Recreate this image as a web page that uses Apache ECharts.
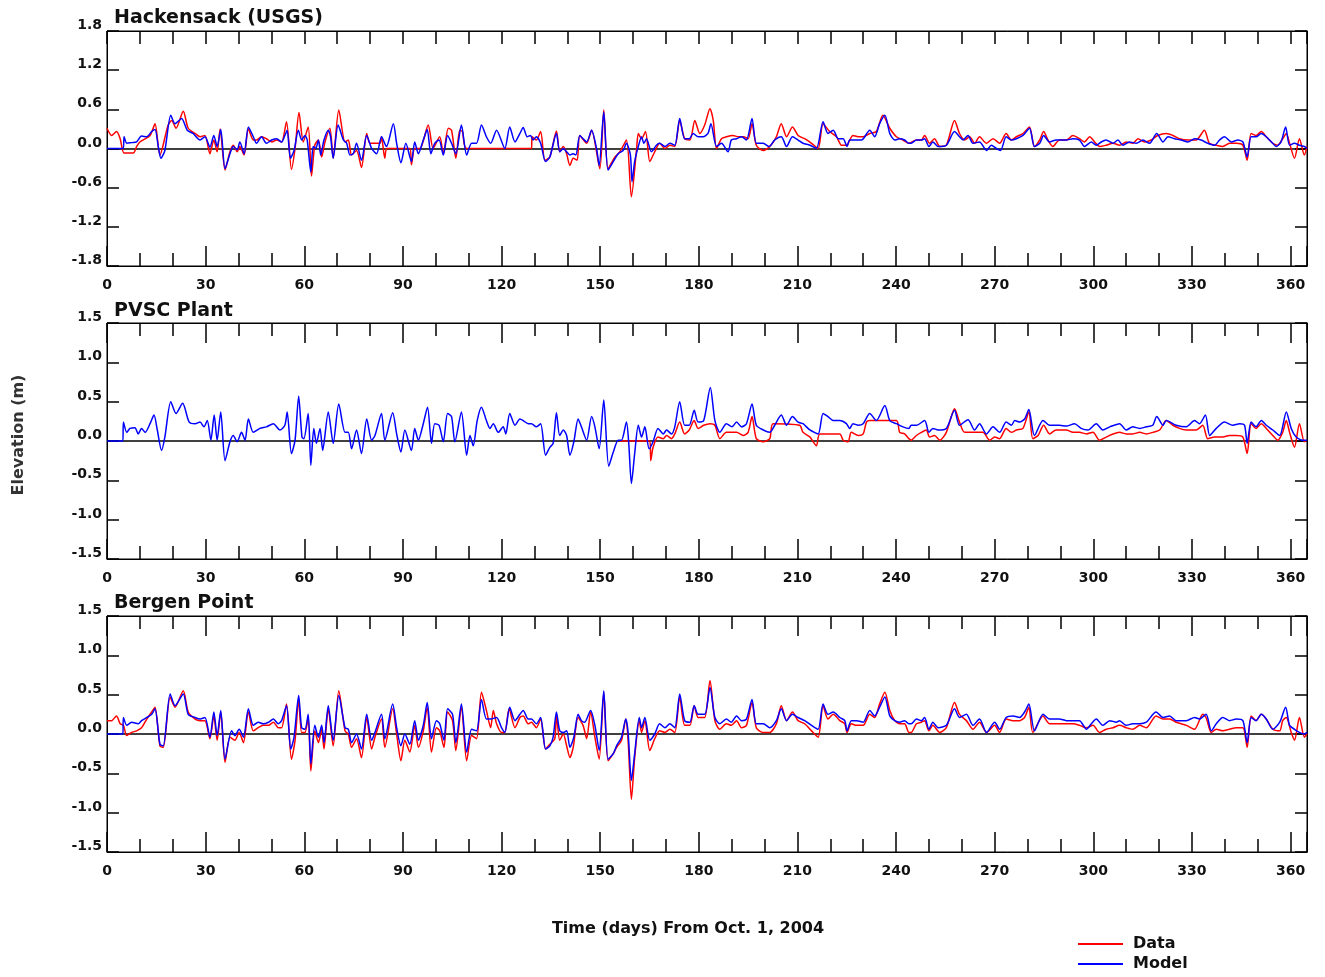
<!DOCTYPE html>
<html>
<head>
<meta charset="utf-8">
<script src="https://cdn.jsdelivr.net/npm/echarts@6/dist/echarts.min.js"></script>
<style>html,body{margin:0;padding:0;background:#fff;}#c{width:1325px;height:977px;}</style>
</head>
<body>
<div id="c"></div>
<script>
// ---- Data: [day, elevation (m)] ----
const hackModel = [[0,0],[4.9,0],[5.2,0.18],[6.0,0.08],[7.5,0.09],[9.0,0.10],[10.5,0.19],[12.1,0.18],[13.6,0.26],[14.6,0.29],[15.6,0.03],[16.4,-0.15],[17.6,-0.03],[19.4,0.51],[20.7,0.38],[22.7,0.46],[24.4,0.28],[26.2,0.23],[28.3,0.13],[29.8,0.18],[31.3,0.02],[32.5,0.20],[33.5,0.03],[34.6,0.29],[35.9,-0.31],[37.4,-0.08],[38.4,0.03],[39.6,-0.02],[40.4,0.10],[41.7,-0.08],[43.0,0.33],[44.5,0.18],[45.5,0.08],[47.0,0.18],[48.5,0.08],[50.1,0.13],[51.6,0.15],[53.1,0.10],[54.1,0.20],[54.8,0.28],[55.8,-0.15],[56.9,-0.03],[58.2,0.28],[59.2,0.13],[60.2,0.20],[60.9,0.13],[62.0,-0.36],[62.7,0.03],[63.5,0],[64.3,0.13],[65.0,-0.10],[66.0,0.13],[67.3,0.28],[68.0,0.18],[68.8,-0.15],[70.3,0.36],[71.9,0.13],[72.9,0.08],[73.9,-0.10],[74.9,-0.08],[75.9,0.08],[77.4,-0.18],[79.0,0.20],[80.5,0],[82.0,-0.08],[83.5,0.18],[85.0,0.03],[87.1,0.38],[88.1,0.08],[89.4,-0.22],[90.9,0.08],[92.6,-0.20],[93.6,0.10],[94.7,-0.08],[96.2,0.13],[97.4,0.29],[98.5,-0.08],[99.7,0.08],[101.0,0.13],[102.3,-0.10],[103.6,0.20],[104.8,0.08],[106.1,-0.08],[107.8,0.36],[109.4,-0.10],[110.9,0.08],[112.4,0.08],[113.9,0.36],[115.4,0.18],[116.7,0.08],[118.5,0.28],[121.0,0],[122.5,0.33],[124.1,0.10],[125.6,0.23],[126.6,0.32],[127.8,0.18],[128.8,0.20],[129.6,0.13],[130.6,0.18],[131.9,0.08],[133.4,-0.20],[134.7,-0.13],[136.7,0.23],[137.7,-0.05],[138.8,0],[139.8,-0.05],[140.8,-0.10],[141.8,-0.08],[142.6,-0.10],[143.8,0.20],[144.8,0.15],[145.9,0.10],[147.4,0.28],[148.9,0],[149.7,-0.26],[151.1,0.56],[152.4,-0.33],[154.0,-0.20],[155.5,-0.08],[157.0,-0.03],[158.0,0.08],[159.2,-0.10],[159.7,-0.51],[160.5,-0.20],[161.6,0.03],[162.6,0.18],[163.3,0.08],[164.1,0.15],[165.6,-0.05],[167.1,0.05],[168.1,0.08],[169.7,0.03],[171.2,0.08],[172.7,0.05],[174.2,0.46],[175.7,0.15],[177.1,0.15],[178.3,0.23],[179.8,0.18],[181.3,0.18],[182.8,0.23],[183.7,0.38],[185.4,0.03],[186.9,0.08],[188.9,-0.05],[189.9,0.13],[191.5,0.15],[193.0,0.18],[194.5,0.13],[196.2,0.46],[197.5,0.08],[199.6,0.08],[201.4,0.03],[203.1,0.13],[205.1,0.18],[206.7,0.03],[208.5,0.18],[210.2,0.13],[211.7,0.08],[213.8,0.05],[215.8,0],[217.8,0.41],[219.3,0.23],[220.9,0.28],[222.4,0.15],[223.9,0.15],[225.1,0.03],[225.9,0.13],[227.4,0.13],[229.5,0.13],[232.0,0.28],[233.5,0.18],[235.0,0.38],[236.6,0.51],[238.1,0.23],[239.6,0.13],[241.1,0.15],[242.6,0.13],[243.9,0.08],[244.6,0.08],[246.2,0.13],[247.7,0.13],[248.7,0.15],[250.0,0.03],[251.2,0.10],[252.8,0.03],[255.3,0.05],[257.8,0.26],[259.3,0.18],[260.4,0.13],[261.9,0.20],[263.4,0.08],[265.4,0.10],[267.5,-0.03],[269.0,0.05],[270.5,0],[271.8,-0.03],[273.5,0.18],[275.1,0.13],[276.6,0.15],[278.6,0.20],[280.6,0.31],[282.1,0.03],[283.7,0.08],[284.9,0.20],[286.7,0.10],[288.7,0.13],[291.8,0.13],[293.8,0.15],[295.8,0.13],[297.3,0.03],[299.4,0.10],[300.9,0.05],[302.4,0.10],[303.9,0.13],[306.0,0.08],[307.5,0.13],[309.0,0.05],[311.0,0.10],[313.1,0.08],[315.1,0.13],[317.1,0.08],[319.3,0.23],[321.2,0.10],[322.7,0.18],[324.7,0.15],[326.7,0.13],[328.8,0.10],[330.8,0.15],[332.8,0.13],[334.8,0.08],[336.9,0.05],[338.4,0.13],[339.9,0.18],[342.0,0.10],[344.0,0.13],[345.5,0.10],[346.8,-0.13],[348.0,0.18],[349.5,0.18],[351.1,0.23],[352.6,0.18],[354.6,0.08],[355.6,0.03],[357.1,0.10],[358.5,0.33],[359.7,0.05],[361.2,0.08],[362.7,0.05],[364.2,0.03],[365,0]];

const hackData = [[0,0.31],[1.4,0.20],[2.9,0.26],[4.0,0.15],[5.2,-0.07],[8.0,-0.07],[9.0,0.03],[10.0,0.10],[13.1,0.20],[14.6,0.38],[16.1,-0.10],[18.6,0.36],[19.7,0.43],[21.0,0.31],[23.2,0.57],[24.7,0.31],[26.8,0.23],[28.3,0.18],[29.8,0.20],[31.3,-0.08],[32.5,0.13],[33.5,-0.05],[34.4,0.30],[35.9,-0.33],[37.4,-0.05],[38.4,0.05],[39.6,-0.05],[40.4,0.03],[41.7,-0.10],[43.0,0.30],[44.5,0.13],[45.5,0.13],[47.0,0.18],[48.5,0.15],[50.1,0.10],[51.6,0.13],[53.1,0.10],[54.6,0.41],[56.1,-0.32],[57.2,0],[58.4,0.55],[59.7,0.10],[61.2,0.33],[62.2,-0.42],[63.2,0.05],[64.3,0.13],[65.3,-0.13],[66.3,0.10],[67.8,0.31],[68.8,-0.15],[70.5,0.59],[72.4,0.10],[73.4,0.13],[74.4,-0.10],[75.9,-0.03],[77.4,-0.29],[79.0,0.23],[80.0,0.08],[83.0,0.08],[83.5,0.18],[84.5,-0.15],[85.2,0],[92.1,0],[92.6,-0.25],[93.6,0],[95.2,0],[97.7,0.36],[99.2,0],[101.2,0.18],[102.3,-0.08],[103.8,0.31],[104.8,0.28],[106.1,-0.15],[107.3,0.28],[108.1,0.26],[109.4,0],[129.1,0],[129.3,0.18],[130.6,0.13],[131.9,0.26],[133.2,-0.18],[134.7,-0.13],[136.7,0.27],[137.7,-0.05],[138.8,0.03],[139.8,-0.08],[140.8,-0.26],[141.8,-0.15],[143.0,-0.18],[143.8,0.20],[145.9,0.08],[147.4,0.28],[149.9,-0.31],[151.1,0.59],[152.4,-0.31],[154.5,-0.13],[156.0,-0.05],[158.0,0.13],[159.5,-0.74],[161.1,0],[161.6,0.23],[162.6,0.15],[163.8,0.26],[165.1,-0.20],[166.6,-0.05],[168.1,0.08],[169.7,0],[171.2,0.05],[172.7,0.03],[174.2,0.43],[175.7,0.15],[177.3,0.13],[178.8,0.43],[180.3,0.23],[181.8,0.36],[183.4,0.61],[184.4,0.43],[185.4,0],[186.9,0.15],[188.4,0.18],[190.4,0.20],[192.0,0.18],[193.5,0.18],[195.0,0.15],[196.2,0.38],[197.5,0.05],[199.6,-0.03],[201.6,0.03],[203.6,0.18],[205.1,0.38],[206.7,0.18],[208.5,0.33],[210.2,0.20],[212.2,0.15],[214.3,0.08],[216.3,0],[217.8,0.38],[219.8,0.26],[221.9,0.18],[223.4,0.05],[224.9,0.05],[226.9,0.20],[228.5,0.18],[230.0,0.18],[232.0,0.23],[234.0,0.26],[236.0,0.51],[238.1,0.31],[240.1,0.18],[242.1,0.13],[243.9,0.08],[246.2,0.13],[247.7,0.13],[248.7,0.20],[250.2,0.08],[251.7,0.15],[253.3,0.03],[255.3,0.05],[257.8,0.43],[259.3,0.23],[260.9,0.13],[262.4,0.18],[263.9,0.08],[265.4,0.18],[267.5,0.08],[269.5,0.15],[271.5,0.08],[273.5,0.23],[275.1,0.13],[276.6,0.18],[278.6,0.23],[280.6,0.33],[282.1,0.03],[283.7,0.13],[284.9,0.26],[286.2,0.13],[287.7,0.03],[289.7,0.13],[291.8,0.13],[293.8,0.20],[295.8,0.15],[297.3,0.10],[298.9,0.18],[300.4,0.10],[301.9,0.03],[303.9,0.05],[306.0,0.08],[308.0,0.05],[310.0,0.10],[312.0,0.08],[313.6,0.15],[315.6,0.10],[317.6,0.13],[319.6,0.20],[322.2,0.23],[324.2,0.20],[326.2,0.15],[328.8,0.13],[331.3,0.13],[333.8,0.28],[335.3,0.08],[337.4,0.05],[339.4,0.03],[341.4,0.08],[343.5,0.08],[345.5,0.05],[346.8,-0.18],[348.0,0.23],[349.5,0.20],[351.1,0.26],[352.6,0.18],[354.6,0.08],[356.1,0.05],[357.6,0.15],[358.7,0.23],[359.7,0.08],[361.2,-0.15],[362.7,0.15],[364.2,-0.10],[365,0.03]];

const pvscModel = [[0,0],[4.8,0],[5.0,0.24],[6.0,0.11],[7.0,0.16],[8.5,0.17],[9.5,0.09],[10.5,0.16],[11.6,0.11],[13.1,0.22],[14.3,0.33],[15.3,0.14],[16.6,-0.12],[17.6,0.05],[19.4,0.50],[21.0,0.35],[23.0,0.48],[25.0,0.24],[26.8,0.22],[28.3,0.24],[29.5,0.18],[30.5,0.26],[31.6,0.01],[32.6,0.33],[33.5,0.01],[34.6,0.37],[35.9,-0.25],[37.4,-0.01],[38.4,0.07],[39.6,-0.01],[40.9,0.11],[42.0,0.01],[43.0,0.28],[44.5,0.11],[46.5,0.16],[48.5,0.18],[50.6,0.22],[52.6,0.14],[54.1,0.20],[54.8,0.37],[56.1,-0.16],[57.2,0.01],[58.3,0.57],[59.3,0.05],[59.9,0.03],[61.2,0.35],[62.0,-0.31],[62.9,0.16],[63.7,-0.03],[64.8,0.16],[65.6,-0.12],[67.3,0.37],[68.8,-0.03],[70.5,0.47],[72.4,0.11],[73.4,0.11],[74.4,-0.10],[75.9,0.14],[77.4,-0.16],[79.0,0.28],[80.5,0.01],[81.5,0.07],[83.5,0.35],[84.5,0.01],[86.9,0.36],[88.1,0.09],[89.4,-0.14],[90.6,0.14],[92.6,-0.12],[93.6,0.16],[94.7,0.01],[96.2,0.22],[97.5,0.43],[98.7,-0.03],[99.7,0.22],[101.0,0.20],[102.3,-0.01],[103.6,0.35],[104.8,0.31],[105.8,-0.01],[107.8,0.37],[109.4,-0.18],[110.4,0.07],[111.4,-0.06],[112.6,0.26],[113.9,0.43],[115.4,0.26],[116.5,0.16],[117.5,0.22],[119.0,0.11],[120.5,0.18],[121.3,0.09],[122.5,0.35],[124.1,0.20],[125.6,0.28],[126.6,0.26],[128.1,0.22],[129.1,0.22],[130.6,0.18],[131.9,0.22],[133.4,-0.18],[134.7,-0.08],[135.7,-0.03],[136.7,0.36],[137.7,0.07],[138.8,0.14],[139.8,0.07],[140.8,-0.18],[142.0,-0.01],[143.3,0.28],[144.3,0.18],[145.9,0.01],[147.4,0.31],[148.4,0.18],[149.7,-0.10],[151.1,0.52],[152.6,-0.32],[154.0,-0.14],[155.5,0.01],[156.5,0.01],[158.0,0.24],[158.7,-0.03],[159.5,-0.54],[160.5,-0.16],[161.6,0.20],[162.6,0.05],[163.6,0.18],[164.9,-0.10],[166.1,-0.01],[167.6,0.16],[169.2,0.09],[170.2,0.14],[171.7,0.09],[172.7,0.18],[174.2,0.50],[175.7,0.20],[177.1,0.20],[178.6,0.39],[179.8,0.24],[181.5,0.26],[183.5,0.68],[184.9,0.26],[186.4,0.11],[188.4,0.22],[190.1,0.18],[191.5,0.24],[193.0,0.18],[194.5,0.22],[196.2,0.47],[197.5,0.20],[199.6,0.14],[201.6,0.11],[203.1,0.20],[205.1,0.33],[206.7,0.20],[208.5,0.31],[210.2,0.24],[211.7,0.22],[213.8,0.14],[216.3,0.09],[217.8,0.35],[219.3,0.31],[220.9,0.26],[222.9,0.26],[224.9,0.22],[225.9,0.16],[226.9,0.22],[228.5,0.20],[230.0,0.22],[232.0,0.35],[234.0,0.26],[236.6,0.45],[238.1,0.26],[240.1,0.22],[242.1,0.18],[243.9,0.16],[244.6,0.20],[246.2,0.20],[248.7,0.26],[250.0,0.11],[251.2,0.16],[252.8,0.14],[255.3,0.16],[257.8,0.39],[259.3,0.20],[261.9,0.27],[263.9,0.14],[265.4,0.22],[267.5,0.09],[269.5,0.18],[271.5,0.11],[273.5,0.24],[275.1,0.20],[276.1,0.26],[277.6,0.24],[279.1,0.28],[280.4,0.40],[282.1,0.07],[284.7,0.26],[286.7,0.20],[289.7,0.20],[291.8,0.19],[294.3,0.22],[296.3,0.16],[298.4,0.14],[300.9,0.22],[302.9,0.14],[305.0,0.18],[308.0,0.22],[310.0,0.14],[312.0,0.18],[314.1,0.16],[316.1,0.18],[318.1,0.20],[319.3,0.31],[321.2,0.20],[322.2,0.26],[325.2,0.20],[328.3,0.18],[330.8,0.26],[332.3,0.22],[334.1,0.33],[335.4,0.07],[337.4,0.16],[339.9,0.24],[342.4,0.20],[344.5,0.22],[346.0,0.20],[346.8,-0.03],[348.0,0.24],[349.5,0.18],[351.1,0.26],[352.6,0.20],[354.6,0.14],[356.7,0.07],[358.7,0.37],[360.2,0.16],[361.7,0.05],[363.7,0.01],[365,0.01]];

const pvscData = [[156.0,0],[165.1,0],[165.4,-0.25],[166.1,-0.08],[167.6,0.05],[169.2,0.03],[170.2,0.07],[171.7,0.03],[172.7,0.09],[174.2,0.24],[175.7,0.09],[177.1,0.14],[178.6,0.26],[179.8,0.16],[181.5,0.20],[183.4,0.22],[184.9,0.20],[186.4,0.03],[188.4,0.11],[190.1,0.11],[191.5,0.11],[193.5,0.07],[195.0,0.11],[196.2,0.31],[197.5,0.03],[199.6,-0.01],[201.6,0.03],[202.6,0.22],[210.7,0.20],[211.7,0.11],[213.8,0.05],[215.8,-0.06],[216.8,0.09],[222.9,0.09],[223.9,0.01],[225.4,-0.01],[226.4,0.11],[228.5,0.07],[230.0,0.09],[231.0,0.24],[232.0,0.26],[240.1,0.26],[241.1,0.11],[242.6,0.09],[243.9,0.03],[244.6,0.01],[246.2,0.07],[247.7,0.11],[249.2,0.14],[250.2,0.05],[251.7,0.07],[253.3,0.01],[255.3,0.11],[257.8,0.41],[259.3,0.24],[260.9,0.11],[266.4,0.11],[268.5,0.01],[270.0,0.05],[271.5,0.03],[273.5,0.16],[275.1,0.11],[276.6,0.14],[278.6,0.16],[280.4,0.37],[281.6,0.03],[283.2,0.07],[284.9,0.20],[286.7,0.09],[288.7,0.14],[291.8,0.14],[293.8,0.11],[295.8,0.11],[297.9,0.09],[299.9,0.11],[301.9,0.01],[303.9,0.05],[306.0,0.09],[308.0,0.11],[310.0,0.09],[312.0,0.09],[314.1,0.11],[316.1,0.09],[318.1,0.11],[320.2,0.14],[322.2,0.26],[324.2,0.20],[326.2,0.16],[328.3,0.14],[331.3,0.14],[333.3,0.20],[334.8,0.03],[336.9,0.05],[339.4,0.05],[341.4,0.07],[343.5,0.07],[345.5,0.05],[346.8,-0.16],[348.0,0.22],[349.5,0.16],[351.1,0.22],[352.6,0.16],[354.6,0.07],[356.1,0.01],[357.6,0.11],[358.7,0.26],[359.7,0.11],[361.2,-0.08],[362.7,0.22],[364.2,-0.01],[365,0.01]];

const bergModel = [[0,0],[4.8,0],[5.0,0.21],[6.0,0.11],[7.5,0.15],[9.5,0.13],[10.5,0.17],[12.1,0.21],[13.6,0.25],[14.6,0.32],[16.1,-0.13],[17.1,-0.15],[19.2,0.51],[20.7,0.36],[23.2,0.51],[24.7,0.25],[26.8,0.21],[28.3,0.19],[29.8,0.21],[31.3,-0.04],[32.5,0.28],[33.5,-0.02],[34.6,0.30],[35.9,-0.32],[37.9,0.04],[38.9,-0.02],[40.2,0.06],[41.5,-0.04],[43.0,0.32],[44.5,0.11],[46.0,0.15],[47.5,0.13],[49.1,0.15],[50.6,0.19],[52.1,0.13],[53.1,0.17],[54.6,0.36],[55.9,-0.19],[56.9,-0.04],[58.3,0.49],[59.2,0.08],[60.2,0.06],[61.2,0.25],[62.0,-0.38],[63.2,0.11],[64.3,-0.04],[65.3,0.11],[66.0,-0.11],[67.3,0.36],[68.8,-0.08],[70.5,0.49],[72.4,0.08],[73.4,0.06],[74.4,-0.11],[75.9,0],[77.4,-0.19],[79.0,0.25],[80.5,-0.08],[81.5,0.02],[83.5,0.25],[84.5,-0.06],[86.9,0.38],[88.1,0.08],[89.4,-0.15],[90.6,0],[92.1,-0.13],[93.6,0.17],[94.7,-0.08],[96.2,0.11],[97.4,0.40],[98.7,-0.06],[100.2,0.17],[101.2,0.13],[102.5,-0.08],[103.6,0.32],[105.1,0.25],[106.1,-0.11],[107.8,0.38],[109.4,-0.23],[110.9,0.06],[112.4,0.04],[113.9,0.44],[115.4,0.19],[116.7,0.19],[118.5,0.21],[120.0,0.08],[121.0,0.02],[122.5,0.34],[124.1,0.17],[125.6,0.25],[126.6,0.30],[128.1,0.19],[129.1,0.19],[130.6,0.13],[131.9,0.21],[133.4,-0.19],[134.7,-0.15],[135.7,-0.04],[136.7,0.28],[137.7,0.04],[138.8,0.02],[139.8,0.04],[140.8,-0.17],[142.0,-0.04],[143.3,0.25],[144.3,0.17],[145.3,0.15],[147.1,0.30],[148.4,0.11],[149.7,-0.21],[151.1,0.55],[152.4,-0.32],[154.0,-0.25],[155.0,-0.15],[156.5,-0.04],[157.8,0.19],[158.5,0.02],[159.5,-0.59],[160.5,-0.25],[161.9,0.21],[162.6,0.08],[163.6,0.21],[165.1,-0.08],[166.6,0],[168.1,0.13],[169.7,0.08],[171.2,0.13],[172.7,0.08],[174.2,0.51],[175.7,0.17],[177.3,0.15],[178.6,0.36],[179.8,0.25],[181.8,0.25],[183.4,0.59],[184.9,0.21],[186.4,0.13],[188.4,0.19],[189.9,0.15],[191.5,0.23],[193.0,0.17],[194.5,0.19],[196.2,0.44],[197.5,0.13],[199.6,0.13],[201.6,0.08],[203.6,0.17],[205.1,0.32],[206.7,0.17],[208.5,0.25],[210.2,0.21],[212.2,0.17],[214.3,0.11],[216.3,0.06],[217.8,0.38],[219.3,0.25],[220.9,0.28],[222.9,0.21],[224.4,0.17],[225.1,0.04],[226.4,0.17],[228.0,0.17],[230.0,0.15],[232.0,0.30],[233.5,0.23],[235.0,0.34],[236.6,0.47],[238.1,0.23],[239.6,0.17],[241.1,0.15],[242.6,0.17],[243.9,0.13],[244.6,0.13],[246.2,0.19],[247.7,0.17],[248.7,0.21],[250.0,0.06],[251.2,0.15],[252.8,0.08],[255.3,0.11],[257.8,0.32],[259.3,0.21],[261.4,0.25],[263.4,0.11],[265.4,0.19],[267.5,0.02],[270.0,0.15],[271.5,0.06],[273.5,0.21],[275.6,0.23],[277.6,0.21],[279.1,0.28],[280.4,0.38],[282.1,0.04],[284.7,0.25],[286.7,0.19],[289.7,0.19],[291.8,0.17],[293.8,0.17],[295.8,0.17],[297.9,0.06],[299.4,0.13],[300.9,0.19],[302.9,0.11],[305.0,0.17],[307.0,0.15],[308.0,0.17],[310.0,0.11],[312.0,0.13],[314.1,0.13],[316.1,0.15],[319.1,0.28],[321.2,0.21],[323.2,0.23],[325.2,0.17],[328.3,0.17],[330.8,0.21],[332.3,0.19],[334.3,0.25],[335.9,0.04],[337.4,0.13],[339.4,0.21],[341.4,0.17],[343.5,0.19],[345.5,0.17],[346.8,-0.11],[348.0,0.21],[349.5,0.17],[351.1,0.25],[352.6,0.19],[354.6,0.06],[356.7,0.15],[358.5,0.34],[359.7,0.11],[361.2,0.06],[362.7,0.02],[364.2,0],[365,0.02]];

const bergData = [[0,0.17],[1.4,0.17],[2.9,0.23],[4.0,0.13],[5.0,0.11],[6.0,-0.02],[7.5,0.02],[9.0,0.04],[10.5,0.08],[12.1,0.19],[13.6,0.28],[14.6,0.34],[16.1,-0.15],[17.1,-0.17],[19.2,0.47],[20.7,0.34],[23.2,0.55],[24.7,0.28],[26.8,0.19],[28.3,0.17],[29.8,0.17],[31.3,-0.06],[32.5,0.23],[33.5,-0.08],[34.6,0.28],[35.9,-0.36],[37.4,-0.04],[38.9,-0.08],[40.2,0.02],[41.5,-0.11],[43.0,0.28],[44.5,0.04],[46.0,0.08],[47.5,0.11],[49.1,0.11],[50.6,0.15],[52.1,0.08],[53.1,0.08],[54.6,0.38],[56.1,-0.32],[57.2,-0.08],[58.3,0.44],[59.2,0.02],[60.2,0.02],[61.2,0.21],[62.0,-0.47],[63.2,0.04],[64.3,-0.11],[65.3,0.06],[66.0,-0.19],[67.3,0.32],[68.8,-0.15],[70.5,0.55],[72.4,0.04],[73.4,0],[74.4,-0.17],[75.9,-0.06],[77.4,-0.30],[79.0,0.21],[80.5,-0.19],[81.5,-0.04],[83.5,0.19],[84.5,-0.17],[86.9,0.32],[88.1,0],[89.4,-0.34],[90.6,-0.08],[92.1,-0.23],[93.6,0.11],[94.7,-0.17],[96.2,0.04],[97.4,0.34],[98.7,-0.23],[100.2,0.08],[101.2,0.04],[102.5,-0.17],[103.6,0.28],[105.1,0.17],[106.1,-0.21],[107.8,0.34],[109.4,-0.34],[110.9,-0.02],[112.4,-0.06],[113.9,0.53],[115.4,0.30],[116.7,0.08],[117.5,0.30],[118.5,0.13],[120.0,0.02],[121.0,0.02],[122.3,0.32],[124.1,0.08],[125.6,0.21],[126.6,0.23],[128.1,0.13],[129.1,0.15],[130.6,0.08],[131.9,0.19],[133.4,-0.19],[134.7,-0.13],[136.2,-0.06],[136.7,0.25],[137.7,-0.08],[138.8,0],[139.8,-0.15],[140.8,-0.30],[141.8,-0.17],[143.3,0.21],[144.8,0.11],[145.9,-0.06],[147.1,0.28],[148.4,-0.04],[149.7,-0.32],[151.1,0.53],[152.4,-0.34],[154.0,-0.25],[155.0,-0.17],[156.5,-0.08],[157.8,0.19],[158.5,-0.08],[159.5,-0.83],[160.5,-0.30],[161.9,0.17],[162.6,0.02],[163.6,0.17],[165.1,-0.21],[166.6,-0.06],[168.1,0.04],[169.7,0.02],[171.2,0.06],[172.7,0.02],[174.2,0.47],[175.7,0.11],[177.3,0.11],[178.6,0.36],[179.8,0.21],[181.8,0.21],[183.4,0.68],[184.9,0.17],[186.4,0.06],[188.4,0.13],[189.9,0.11],[191.5,0.17],[193.0,0.08],[194.5,0.11],[196.2,0.40],[197.5,0.08],[199.6,0.02],[201.6,0.02],[203.6,0.13],[205.1,0.36],[206.7,0.17],[208.5,0.28],[210.2,0.17],[212.2,0.13],[214.3,0.04],[216.3,-0.04],[217.8,0.36],[219.3,0.19],[220.9,0.25],[222.9,0.17],[224.4,0.13],[225.1,0.02],[226.4,0.13],[228.0,0.11],[230.0,0.11],[232.0,0.25],[233.5,0.21],[235.0,0.38],[236.6,0.53],[238.1,0.30],[239.6,0.17],[241.1,0.13],[242.6,0.13],[243.9,0.02],[244.6,0.02],[246.2,0.13],[247.7,0.15],[248.7,0.17],[250.0,0.04],[251.2,0.11],[253.3,0.02],[255.3,0.08],[257.8,0.40],[259.3,0.25],[261.4,0.17],[263.4,0.06],[265.4,0.15],[267.5,0.02],[270.0,0.11],[271.5,0.02],[273.5,0.19],[275.6,0.17],[277.6,0.17],[279.1,0.21],[280.4,0.34],[281.6,0.02],[284.7,0.23],[286.7,0.13],[289.7,0.13],[291.8,0.13],[293.8,0.13],[295.8,0.11],[297.9,0.08],[299.9,0.11],[301.9,0.02],[303.9,0.06],[306.0,0.08],[308.0,0.11],[310.0,0.08],[312.0,0.06],[314.1,0.11],[316.1,0.08],[319.1,0.23],[321.2,0.19],[323.2,0.19],[325.2,0.15],[328.3,0.11],[330.8,0.06],[333.3,0.25],[334.3,0.21],[335.9,0.02],[337.4,0.06],[339.4,0.04],[341.4,0.06],[343.5,0.08],[345.5,0.08],[346.8,-0.17],[348.0,0.23],[349.5,0.17],[351.1,0.25],[352.6,0.19],[354.6,0.06],[356.7,0.04],[357.6,0.17],[358.7,0.21],[360.2,0.02],[361.2,-0.08],[362.7,0.21],[364.2,-0.04],[365,0]];

// axis ranges [min, max, interval]
const xRange = [0, 365, 30];
const yRangeHack = [-1.8, 1.8, 0.6];
const yRangeOther = [-1.5, 1.5, 0.5];
const panelTitles = ['Hackensack (USGS)', 'PVSC Plant', 'Bergen Point'];
const seriesNames = ['Data', 'Model'];
const yTitle = 'Elevation (m)';
const xTitle = 'Time (days) From Oct. 1, 2004';

// ---- Layout / styling ----
const FONT = '"DejaVu Sans", "Liberation Sans", Arial, sans-serif';
const TXT = '#111';
const panels = [
  {data: hackData, model: hackModel, y: yRangeHack, top: 31, height: 235, titleTop: 9},
  {data: pvscData, model: pvscModel, y: yRangeOther, top: 323, height: 236, titleTop: 302},
  {data: bergData, model: bergModel, y: yRangeOther, top: 616, height: 236, titleTop: 594}
];

const grids = [], xAxes = [], yAxes = [], series = [], titles = [];
panels.forEach((p, i) => {
  grids.push({left: 107, width: 1200, top: p.top, height: p.height, show: true,
    borderColor: '#000', borderWidth: 1, backgroundColor: 'transparent', containLabel: false});
  const baseX = {type: 'value', gridIndex: i, min: xRange[0], max: xRange[1], splitLine: {show: false}};
  xAxes.push(Object.assign({}, baseX, {position: 'bottom', interval: xRange[2],
    axisLine: {show: true, onZero: false, lineStyle: {color: '#000', width: 1}},
    axisTick: {show: true, inside: true, length: 20, lineStyle: {color: '#000', width: 1.5}},
    axisLabel: {show: true, margin: 12, fontFamily: FONT, fontWeight: 'bold', fontSize: 14, color: TXT,
      formatter: v => (v % 30 === 0 && v <= 360) ? String(v) : ''}}));
  xAxes.push(Object.assign({}, baseX, {position: 'bottom', interval: 10,
    axisLine: {show: false, onZero: false},
    axisTick: {show: true, inside: true, length: 13, lineStyle: {color: '#000', width: 1.5}},
    axisLabel: {show: false}}));
  xAxes.push(Object.assign({}, baseX, {position: 'top', interval: xRange[2],
    axisLine: {show: true, onZero: false, lineStyle: {color: '#000', width: 1}},
    axisTick: {show: true, inside: true, length: i === 0 ? 13 : 20, lineStyle: {color: '#000', width: 1.5}},
    axisLabel: {show: false}}));
  xAxes.push(Object.assign({}, baseX, {position: 'top', interval: 10,
    axisLine: {show: false, onZero: false},
    axisTick: {show: true, inside: true, length: 13, lineStyle: {color: '#000', width: 1.5}},
    axisLabel: {show: false}}));

  const baseY = {type: 'value', gridIndex: i, min: p.y[0], max: p.y[1], interval: p.y[2], splitLine: {show: false}};
  yAxes.push(Object.assign({}, baseY, {position: 'left',
    axisLine: {show: true, onZero: false, lineStyle: {color: '#000', width: 1}},
    axisTick: {show: true, inside: true, length: 12, lineStyle: {color: '#000', width: 1.5}},
    axisLabel: {show: true, margin: 5, fontFamily: FONT, fontWeight: 'bold', fontSize: 14, color: TXT,
      verticalAlign: 'bottom', lineHeight: 11,
      formatter: v => (Math.abs(v) < 1e-9 ? 0 : v).toFixed(1)}}));
  yAxes.push(Object.assign({}, baseY, {position: 'right',
    axisLine: {show: true, onZero: false, lineStyle: {color: '#000', width: 1}},
    axisTick: {show: true, inside: true, length: 12, lineStyle: {color: '#000', width: 1.5}},
    axisLabel: {show: false}}));

  series.push({name: seriesNames[0], type: 'line', xAxisIndex: 4 * i, yAxisIndex: 2 * i,
    data: p.data, symbol: 'none', showSymbol: false, smooth: 0.25, z: 3,
    lineStyle: {color: '#ff0000', width: 1.5}, itemStyle: {color: '#ff0000'},
    emphasis: {disabled: true}, animation: false,
    markLine: {silent: true, symbol: ['none', 'none'], z: 1, label: {show: false},
      emphasis: {disabled: true},
      lineStyle: {color: '#000', width: 1.6, type: 'solid'}, data: [{yAxis: 0}]}});
  series.push({name: seriesNames[1], type: 'line', xAxisIndex: 4 * i, yAxisIndex: 2 * i,
    data: p.model, symbol: 'none', showSymbol: false, smooth: 0.25, z: 4,
    lineStyle: {color: '#0000ff', width: 1.5}, itemStyle: {color: '#0000ff'},
    emphasis: {disabled: true}, animation: false});

  titles.push({text: panelTitles[i], left: 114, top: p.titleTop, padding: 0,
    textStyle: {fontFamily: FONT, fontWeight: 'bold', fontSize: 19, color: TXT}});
});

const legendText = {fontFamily: FONT, fontWeight: 'bold', fontSize: 16, color: TXT, padding: [0, 0, 0, 5]};
const legends = seriesNames.map((n, k) => ({
  orient: 'vertical', left: 1078, top: 936 + 20 * k, itemWidth: 45, itemHeight: 2, itemGap: 0,
  icon: 'rect', data: [n], selectedMode: false, padding: 0, textStyle: legendText
}));

const chart = echarts.init(document.getElementById('c'), null, {renderer: 'canvas'});
chart.setOption({
  backgroundColor: '#fff',
  animation: false,
  title: titles,
  grid: grids,
  xAxis: xAxes,
  yAxis: yAxes,
  series: series,
  legend: legends,
  graphic: [
    {type: 'text', x: 19, y: 435, rotation: Math.PI / 2,
      style: {text: yTitle, fontFamily: FONT, fontWeight: 'bold', fontSize: 16, fill: '#333', align: 'center', verticalAlign: 'middle'}},
    {type: 'text', x: 688, y: 929,
      style: {text: xTitle, fontFamily: FONT, fontWeight: 'bold', fontSize: 16, fill: TXT, align: 'center', verticalAlign: 'middle'}}
  ]
});
</script>
</body>
</html>
